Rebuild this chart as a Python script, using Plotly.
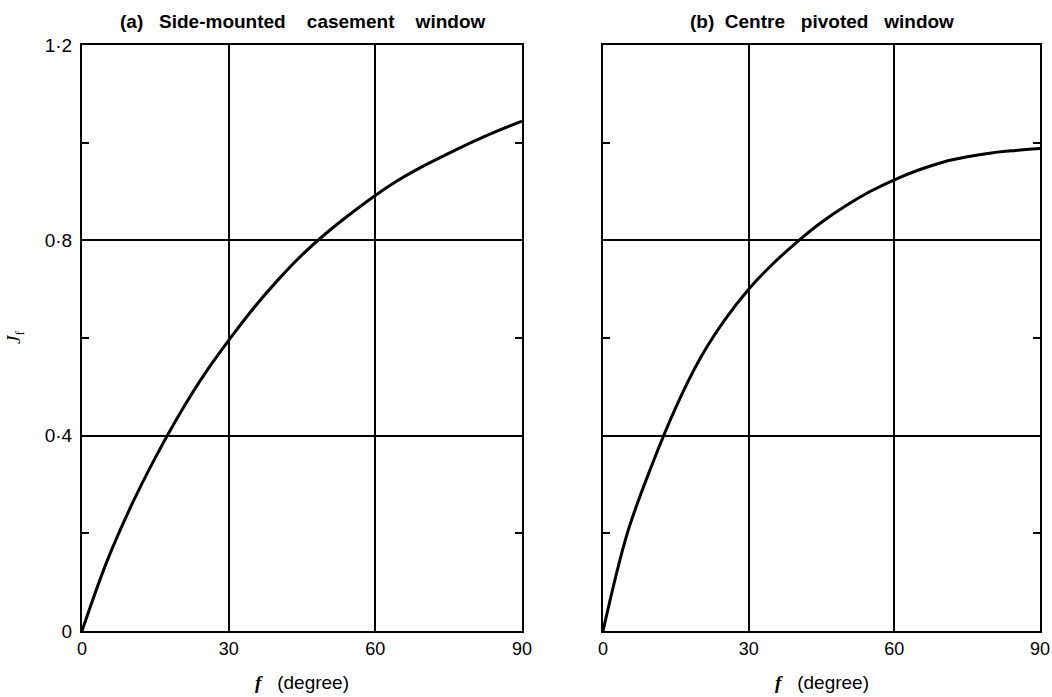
import plotly.graph_objects as go

# ---- data ----
angle_deg = [0, 5, 10, 15, 20, 25, 30, 35, 40, 45, 50, 55, 60, 65, 70, 75, 80, 85, 90]
jf_casement = [0, 0.14, 0.255, 0.355, 0.445, 0.525, 0.595, 0.66, 0.718, 0.77, 0.815,
               0.855, 0.892, 0.925, 0.953, 0.978, 1.002, 1.024, 1.044]
jf_pivoted = [0, 0.2, 0.338, 0.458, 0.558, 0.636, 0.70, 0.752, 0.797, 0.837, 0.871,
              0.90, 0.924, 0.944, 0.96, 0.971, 0.979, 0.984, 0.988]

x_ticks = [0, 30, 60, 90]
y_ticks = [0, 0.4, 0.8, 1.2]
y_ticktext = ["0", "0·4", "0·8", "1·2"]
y_minor = [0.2, 0.6, 1.0]

titles = ["(a)   Side-mounted    casement    window", "(b)  Centre   pivoted   window"]

W, H = 1052, 697
ML, MR, MT, MB = 82, 12, 45, 66
PW = W - ML - MR
PH = H - MT - MB

dom_a = [0, 440 / PW]
dom_b = [(603 - ML) / PW, 1]

SANS = "Liberation Sans, Arial, sans-serif"
SERIF = "Liberation Serif, Times New Roman, serif"

fig = go.Figure()
fig.add_trace(go.Scatter(x=angle_deg, y=jf_casement, mode="lines",
                         line=dict(color="black", width=3, shape="spline", smoothing=1),
                         xaxis="x", yaxis="y", showlegend=False, hoverinfo="skip"))
fig.add_trace(go.Scatter(x=angle_deg, y=jf_pivoted, mode="lines",
                         line=dict(color="black", width=3, shape="spline", smoothing=1),
                         xaxis="x2", yaxis="y2", showlegend=False, hoverinfo="skip"))

def xax(domain, anchor):
    return dict(domain=domain, anchor=anchor, range=[0, 90], tickvals=x_ticks,
                automargin=False,
                showgrid=True, gridcolor="black", gridwidth=1.5, zeroline=False,
                showline=True, linecolor="black", linewidth=2, mirror=True,
                ticks="", tickfont=dict(family=SANS, size=18, color="black"))

def yax(anchor, labels):
    return dict(domain=[0, 1], anchor=anchor, range=[0, 1.2], tickvals=y_ticks,
                automargin=False,
                ticktext=y_ticktext, showticklabels=labels, ticklabelstandoff=4,
                showgrid=True, gridcolor="black", gridwidth=1.5, zeroline=False,
                showline=True, linecolor="black", linewidth=2, mirror="ticks",
                ticks="inside", ticklen=7, tickwidth=1.5, tickcolor="black",
                minor=dict(tickvals=y_minor, ticks="inside", ticklen=7, tickwidth=1.5,
                           tickcolor="black", showgrid=False),
                tickfont=dict(family=SANS, size=19, color="black"))

fig.update_layout(
    width=W, height=H,
    margin=dict(l=ML, r=MR, t=MT, b=MB, autoexpand=False),
    paper_bgcolor="white", plot_bgcolor="white",
    hovermode=False,
    xaxis=xax(dom_a, "y"), yaxis=yax("x", True),
    xaxis2=xax(dom_b, "y2"), yaxis2=yax("x2", False),
)

annots = []
for dom, t in zip([dom_a, dom_b], titles):
    cx = (dom[0] + dom[1]) / 2
    annots.append(dict(xref="paper", yref="paper", x=cx, y=1 + (MT - 21) / PH,
                       text="<b>" + t + "</b>", showarrow=False, xanchor="center",
                       yanchor="middle", font=dict(family=SANS, size=19, color="black")))
    annots.append(dict(xref="paper", yref="paper", x=cx, y=-51 / PH,
                       text="<span style='font-family:" + SERIF + "'><b><i>f</i></b></span>   (degree)",
                       showarrow=False, xanchor="center", yanchor="middle",
                       font=dict(family=SANS, size=19, color="black")))
annots.append(dict(xref="paper", yref="paper", x=(15 - ML) / PW, y=0.5,
                   text="<i>J</i><sub>f</sub>", showarrow=False, textangle=-90,
                   xanchor="center", yanchor="middle",
                   font=dict(family=SERIF, size=19, color="black")))
fig.update_layout(annotations=annots)

fig.write_html("out.html", config={"displayModeBar": False},
               post_script="document.body.style.margin='0';document.body.style.overflow='hidden';")
